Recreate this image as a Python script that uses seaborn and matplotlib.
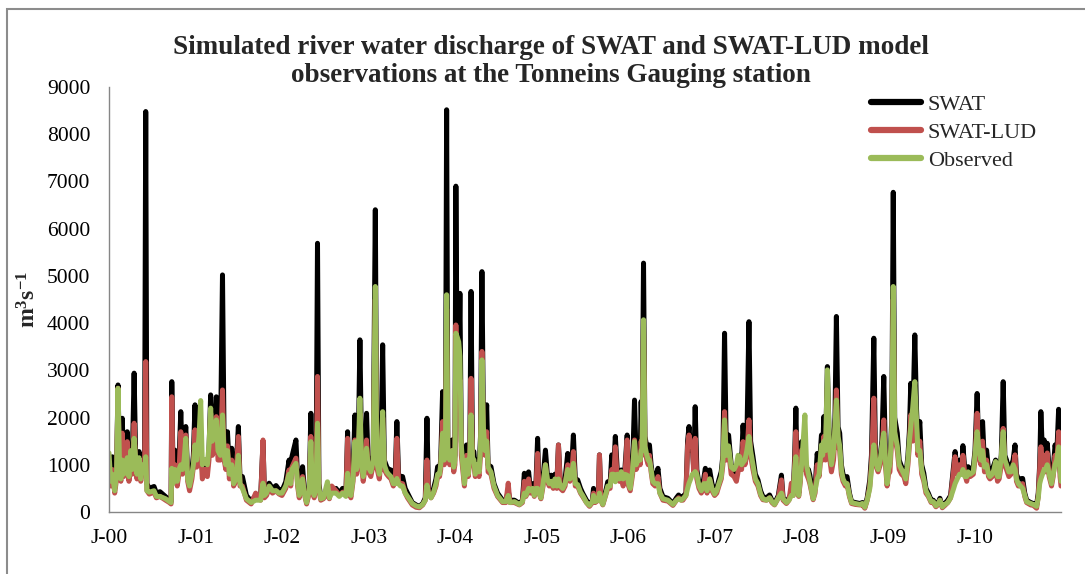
import matplotlib
matplotlib.use("Agg")
import matplotlib.pyplot as plt
import pandas as pd
import seaborn as sns
from matplotlib.lines import Line2D
from matplotlib.patches import Rectangle

# Days since 1 Jan 2000 (one row per year) and discharge in m3/s
day = [
    0, 7, 14, 24, 32, 38, 44, 50, 56, 62, 70, 77, 84, 92, 98, 106, 112, 118, 127, 134, 142, 150, 155, 160, 170, 190, 200, 215, 239, 255, 262, 265, 270, 278, 288, 295, 303, 310, 317, 324, 332, 340, 350, 356, 363,
    370, 380, 387, 394, 405, 415, 422, 429, 436, 445, 453, 460, 470, 479, 486, 493, 500, 508, 518, 526, 535, 546, 553, 563, 580, 600, 619, 640, 650, 656, 665, 676, 690, 705, 718,
    730, 746, 760, 767, 772, 789, 796, 803, 817, 824, 834, 845, 852, 858, 866, 874, 880, 886, 894, 905, 922, 930, 940, 958, 972, 986, 1000, 1007, 1014, 1021, 1030, 1038, 1045, 1052, 1059, 1066, 1073, 1080, 1087, 1094,
    1100, 1105, 1115, 1124, 1130, 1141, 1148, 1155, 1162, 1172, 1180, 1190, 1200, 1208, 1215, 1222, 1230, 1239, 1250, 1260, 1280, 1296, 1310, 1324, 1335, 1342, 1348, 1359, 1370, 1380, 1387, 1395, 1400, 1408, 1415, 1420, 1425, 1430, 1438, 1448, 1455, 1460,
    1464, 1470, 1476, 1481, 1487, 1494, 1500, 1509, 1516, 1523, 1528, 1534, 1540, 1546, 1555, 1562, 1568, 1574, 1580, 1587, 1594, 1600, 1612, 1625, 1640, 1661, 1675, 1685, 1692, 1711, 1732, 1745, 1753, 1760, 1771, 1778, 1787, 1795, 1802, 1809, 1815, 1823,
    1832, 1842, 1850, 1858, 1866, 1875, 1882, 1890, 1897, 1905, 1915, 1925, 1936, 1945, 1952, 1960, 1968, 1978, 1990, 1999, 2015, 2028, 2040, 2045, 2052, 2065, 2070, 2076, 2084, 2095, 2105, 2115, 2122, 2130, 2137, 2145, 2154, 2162, 2170, 2176, 2187,
    2193, 2200, 2210, 2218, 2225, 2232, 2236, 2242, 2246, 2250, 2256, 2262, 2270, 2276, 2281, 2288, 2295, 2305, 2317, 2325, 2338, 2359, 2380, 2395, 2404, 2415, 2422, 2435, 2442, 2448, 2455, 2462, 2468, 2474, 2481, 2490, 2500, 2510, 2517, 2524, 2535, 2545,
    2556, 2565, 2574, 2584, 2591, 2598, 2605, 2615, 2626, 2638, 2648, 2655, 2662, 2670, 2676, 2684, 2692, 2701, 2708, 2718, 2728, 2739, 2750, 2760, 2775, 2788, 2798, 2809, 2825, 2838, 2845, 2859, 2870, 2880, 2888, 2894, 2899, 2905, 2911, 2918,
    2923, 2930, 2937, 2944, 2952, 2958, 2972, 2980, 2989, 2997, 3007, 3012, 3017, 3024, 3032, 3040, 3049, 3058, 3064, 3070, 3077, 3084, 3091, 3098, 3108, 3115, 3125, 3134, 3150, 3169, 3180, 3190, 3200, 3211, 3218, 3228, 3235, 3246, 3255, 3262, 3270, 3277, 3284,
    3290, 3296, 3304, 3310, 3316, 3327, 3335, 3345, 3355, 3363, 3372, 3378, 3384, 3392, 3401, 3408, 3414, 3422, 3430, 3439, 3448, 3458, 3470, 3479, 3490, 3500, 3507, 3517, 3528, 3540, 3552, 3565, 3571, 3580, 3590, 3600, 3604, 3612, 3620, 3626, 3635, 3648,
    3655, 3664, 3670, 3680, 3687, 3695, 3704, 3712, 3718, 3728, 3735, 3742, 3750, 3757, 3766, 3774, 3781, 3788, 3798, 3807, 3816, 3824, 3830, 3838, 3856, 3865, 3873, 3890, 3901, 3915, 3922, 3928, 3933, 3940, 3947, 3953, 3960, 3968, 3978, 3985, 3993, 4000, 4008, 4014, 4018,
]

swat = [
    1100, 700, 1170, 500, 900, 2690, 1200, 800, 1985, 900, 1100, 1700, 800, 1200, 1000, 2940, 1300, 900, 1280, 800, 1100, 900, 8480, 600, 500, 540, 400, 430, 325, 250, 220, 2760, 900, 1310, 700, 1000, 2125, 1000, 1300, 1810, 800, 600, 900, 1200, 2270,
    1200, 1400, 1400, 900, 1100, 900, 1300, 2480, 1400, 1600, 2440, 1300, 1300, 5020, 1400, 1100, 1700, 900, 1350, 700, 800, 1810, 700, 750, 350, 230, 350, 300, 1480, 400, 450, 610, 500, 560, 470,
    450, 640, 1100, 700, 1170, 1525, 700, 400, 960, 500, 220, 500, 2090, 600, 400, 700, 5690, 600, 300, 350, 450, 350, 450, 500, 400, 500, 400, 1700, 500, 400, 800, 2055, 1000, 1300, 3645, 1200, 800, 1100, 2090, 1000,
    1000, 900, 1200, 6400, 1200, 850, 1300, 3540, 1100, 960, 900, 890, 700, 800, 1915, 800, 750, 750, 500, 400, 200, 150, 120, 180, 300, 1985, 500, 360, 500, 700, 960, 900, 1100, 2550, 1200, 1500, 8517, 1500, 1200, 1525, 1000, 1200,
    6900, 2500, 3000, 4630, 1500, 1000, 680, 1420, 900, 1400, 4670, 1300, 1280, 900, 1100, 900, 1600, 5090, 2000, 1500, 2270, 1000, 960, 600, 400, 250, 250, 450, 250, 250, 180, 250, 820, 400, 850, 500, 600, 400, 600, 1560, 500, 350,
    700, 1310, 800, 700, 780, 600, 800, 600, 1420, 600, 550, 700, 1240, 800, 900, 1630, 700, 680, 500, 400, 250, 150, 250, 500, 250, 300, 1210, 300, 180, 400, 640, 600, 1210, 900, 1600, 900, 800, 890, 700, 800, 1630,
    700, 600, 1000, 2370, 1100, 1200, 1490, 1200, 2340, 1500, 5270, 1600, 1380, 1200, 1420, 1000, 750, 700, 925, 500, 325, 290, 180, 300, 360, 300, 325, 400, 1500, 1810, 1300, 1400, 900, 2230, 900, 600, 500, 700, 925, 500, 890, 600,
    430, 500, 680, 855, 1200, 3785, 1400, 1630, 1000, 900, 780, 1000, 1200, 1100, 1840, 1200, 1500, 4030, 1500, 1170, 800, 680, 450, 325, 300, 360, 250, 180, 350, 780, 300, 220, 300, 400, 400, 1200, 2200, 700, 400, 800,
    1490, 1000, 1200, 900, 900, 780, 325, 500, 1240, 900, 1630, 1300, 2020, 1300, 3080, 1500, 1030, 1400, 2000, 4140, 1800, 1670, 1000, 800, 700, 750, 400, 220, 200, 180, 200, 110, 300, 680, 1200, 3680, 1200, 1000, 1200, 1500, 2870, 1200, 680,
    1000, 1030, 2000, 6770, 2000, 1670, 1100, 960, 900, 750, 1200, 1700, 2725, 1800, 3750, 2200, 1500, 1915, 1000, 820, 500, 400, 250, 250, 150, 200, 290, 120, 180, 250, 350, 1000, 1280, 900, 1100, 1000, 1405, 900, 800, 960, 900, 960,
    1300, 2510, 1500, 1200, 1915, 1000, 1310, 900, 820, 900, 1000, 1100, 800, 820, 1200, 2760, 1200, 1100, 900, 960, 1100, 1420, 800, 700, 710, 400, 250, 200, 180, 150, 400, 1000, 2125, 1200, 1525, 1000, 1455, 900, 700, 900, 1420, 1200, 2175, 900, 700,
]

swat_lud = [
    800, 550, 900, 400, 700, 2620, 1000, 650, 1670, 750, 900, 1490, 650, 1000, 800, 1880, 1000, 700, 1000, 650, 900, 800, 3185, 450, 380, 420, 300, 330, 250, 200, 170, 2440, 700, 1000, 550, 800, 1700, 800, 1100, 1630, 650, 450, 700, 950, 1740,
    950, 1100, 1300, 700, 900, 750, 1100, 2090, 1200, 1300, 2020, 1100, 1100, 2585, 1100, 900, 1400, 700, 1100, 550, 650, 1600, 550, 550, 250, 170, 400, 250, 1525, 300, 350, 500, 400, 450, 380,
    350, 500, 890, 550, 950, 1140, 550, 300, 750, 400, 170, 400, 1600, 450, 300, 550, 2870, 450, 250, 280, 400, 280, 550, 450, 350, 420, 350, 1560, 400, 300, 650, 1525, 800, 1100, 2090, 950, 650, 900, 1525, 850,
    800, 750, 1000, 4500, 950, 700, 1100, 2000, 900, 800, 750, 700, 550, 650, 1560, 650, 600, 600, 400, 300, 150, 100, 90, 150, 250, 1100, 400, 300, 400, 550, 750, 750, 900, 1915, 1000, 1200, 4300, 1200, 1000, 1300, 850, 1000,
    3960, 2200, 2500, 2800, 1200, 850, 550, 1200, 750, 1100, 2830, 1050, 1000, 750, 900, 750, 1200, 3400, 1600, 1200, 1700, 850, 800, 500, 330, 200, 200, 610, 200, 200, 150, 200, 650, 330, 700, 400, 500, 330, 500, 1240, 400, 280,
    550, 1000, 650, 550, 600, 500, 650, 500, 1420, 500, 450, 550, 1000, 650, 750, 1280, 550, 550, 400, 330, 200, 120, 200, 400, 200, 250, 1210, 250, 150, 330, 500, 500, 900, 700, 1380, 700, 650, 700, 550, 650, 1525,
    550, 450, 800, 1525, 900, 1000, 1200, 1000, 1500, 1200, 3900, 1300, 1100, 1000, 1200, 850, 600, 550, 750, 400, 250, 230, 140, 250, 300, 250, 250, 350, 1400, 1630, 1400, 1450, 800, 1560, 700, 500, 400, 550, 800, 400, 700, 450,
    350, 400, 550, 700, 1000, 2125, 1100, 1300, 800, 750, 650, 850, 1000, 900, 1490, 1000, 1200, 1950, 1200, 900, 650, 550, 350, 260, 250, 300, 200, 150, 300, 680, 250, 180, 250, 610, 350, 1000, 1700, 550, 330, 650,
    1310, 900, 1100, 800, 700, 600, 260, 400, 1000, 750, 1300, 1100, 1600, 1100, 2600, 1200, 850, 1100, 1600, 2585, 1400, 1300, 800, 650, 550, 600, 330, 180, 160, 150, 150, 80, 250, 550, 1000, 2410, 1000, 850, 1000, 1200, 1950, 1000, 550,
    800, 850, 1600, 4500, 1600, 1300, 900, 800, 750, 600, 1000, 1400, 2055, 1500, 2300, 1800, 1200, 1500, 800, 650, 400, 330, 200, 200, 110, 160, 250, 90, 140, 200, 300, 900, 1170, 800, 1000, 900, 1200, 800, 650, 800, 750, 800,
    1100, 2090, 1200, 1000, 1500, 850, 1100, 750, 700, 750, 850, 950, 650, 700, 1000, 1770, 1000, 900, 750, 800, 900, 1210, 650, 550, 600, 330, 200, 150, 140, 80, 330, 900, 1380, 1000, 1200, 850, 1250, 750, 550, 750, 1200, 1000, 1700, 750, 550,
]

observed = [
    1250, 650, 800, 450, 800, 2620, 1100, 700, 1100, 800, 950, 1150, 750, 1300, 900, 1560, 1150, 800, 1150, 700, 1000, 850, 1170, 450, 420, 450, 330, 330, 280, 220, 200, 925, 600, 900, 650, 900, 1000, 900, 1100, 1560, 700, 550, 800, 1000, 1420,
    1100, 1600, 2360, 1000, 1100, 1000, 1400, 2200, 1500, 1600, 1950, 1300, 1200, 2055, 1200, 1000, 1300, 800, 1000, 600, 700, 1200, 600, 500, 280, 200, 250, 250, 610, 350, 400, 550, 450, 450, 400,
    400, 550, 800, 600, 900, 1030, 600, 350, 700, 400, 200, 450, 1490, 500, 350, 600, 1880, 500, 280, 300, 640, 300, 400, 400, 330, 400, 330, 820, 450, 350, 700, 1490, 900, 1200, 2410, 1000, 750, 1000, 1350, 950,
    900, 850, 1100, 4775, 1050, 800, 1200, 2125, 1000, 850, 800, 750, 600, 600, 710, 600, 550, 550, 400, 330, 180, 130, 110, 160, 250, 570, 400, 300, 420, 600, 800, 800, 1000, 1670, 1100, 1300, 4600, 1300, 1100, 1300, 950, 1100,
    3785, 3700, 3600, 3300, 1400, 950, 600, 1100, 800, 1200, 2055, 1150, 1100, 800, 1000, 850, 1400, 3220, 1800, 1300, 1500, 950, 850, 550, 350, 220, 220, 350, 200, 220, 160, 220, 400, 350, 500, 450, 500, 350, 500, 500, 400, 300,
    600, 1000, 700, 600, 650, 550, 700, 550, 700, 550, 500, 600, 900, 700, 800, 1030, 600, 580, 420, 350, 200, 140, 220, 350, 220, 250, 400, 250, 160, 350, 550, 550, 800, 800, 640, 800, 700, 855, 700, 800, 780,
    600, 500, 900, 1490, 1000, 1100, 1100, 1100, 1300, 1300, 4070, 1400, 1200, 1100, 1100, 900, 650, 600, 600, 400, 280, 250, 160, 250, 280, 250, 280, 350, 500, 610, 700, 800, 800, 855, 800, 550, 450, 600, 600, 450, 700, 500,
    380, 450, 600, 750, 1100, 1950, 1200, 1400, 950, 900, 1000, 1200, 1170, 1000, 1050, 1100, 1300, 1600, 1300, 1000, 700, 600, 380, 280, 250, 300, 220, 160, 300, 400, 280, 200, 250, 350, 350, 900, 1170, 600, 350, 700,
    1000, 1500, 2055, 1000, 800, 650, 280, 450, 700, 800, 1420, 1200, 1500, 1300, 3010, 1400, 1000, 1300, 1800, 2370, 1600, 1400, 900, 700, 600, 600, 350, 200, 180, 160, 180, 100, 250, 500, 900, 1420, 1100, 900, 1100, 1400, 1670, 1100, 600,
    900, 1000, 1800, 4775, 1700, 1400, 1000, 900, 800, 700, 1100, 1500, 1810, 2200, 2760, 2000, 1300, 1300, 900, 700, 450, 350, 220, 220, 130, 180, 250, 110, 160, 200, 300, 500, 600, 700, 800, 800, 900, 750, 750, 850, 800, 850,
    1200, 1700, 1400, 1100, 1300, 950, 1000, 800, 750, 800, 900, 1070, 750, 750, 1200, 1700, 1100, 1000, 850, 850, 1000, 900, 700, 600, 500, 350, 220, 180, 160, 120, 300, 600, 700, 800, 900, 900, 1000, 800, 600, 800, 1000, 1100, 1380, 900, 650,
]

series_names = ["SWAT", "SWAT-LUD", "Observed"]
series_colors = ["#000000", "#C0504D", "#9BBB59"]
year_labels = ["J-00", "J-01", "J-02", "J-03", "J-04", "J-05", "J-06",
               "J-07", "J-08", "J-09", "J-10", ""]
y_ticks = [0, 1000, 2000, 3000, 4000, 5000, 6000, 7000, 8000, 9000]
title_lines = ["Simulated river water discharge of SWAT and SWAT-LUD model",
               "observations at the Tonneins Gauging station"]

start = pd.Timestamp("2000-01-01")
dates = start + pd.to_timedelta(day, unit="D")
df = pd.concat(
    [pd.DataFrame({"date": dates, "flow": vals, "series": name})
     for name, vals in zip(series_names, [swat, swat_lud, observed])],
    ignore_index=True,
)

sns.set_theme(style="white")
plt.rcParams["font.family"] = ["Liberation Serif", "DejaVu Serif"]
plt.rcParams["mathtext.fontset"] = "custom"
plt.rcParams["mathtext.rm"] = "Liberation Serif:bold"
plt.rcParams["mathtext.it"] = "Liberation Serif:bold"
plt.rcParams["mathtext.bf"] = "Liberation Serif:bold"

W, H = 1085, 574
fig = plt.figure(figsize=(W / 100, H / 100), dpi=100)
ax = fig.add_axes([109 / W, 1 - 512 / H, (1061 - 109) / W, (512 - 87) / H])

palette = dict(zip(series_names, series_colors))
sns.lineplot(data=df, x="date", y="flow", hue="series", hue_order=series_names,
             palette=palette, linewidth=3.6, estimator=None, legend=False, ax=ax)
for ln in ax.lines:
    ln.set_solid_capstyle("round")
    ln.set_solid_joinstyle("round")

ax.set_xlim(start, pd.Timestamp("2011-01-01"))
ax.set_ylim(0, 9000)
ax.set_xlabel("")
ax.set_ylabel("")
ax.set_yticks(y_ticks)
ax.set_yticklabels([str(v) for v in y_ticks])
ax.set_xticks(pd.date_range("2000-01-01", "2011-01-01", freq="YS"))
ax.set_xticklabels(year_labels)

for side in ("top", "right"):
    ax.spines[side].set_visible(False)
for side in ("left", "bottom"):
    ax.spines[side].set_color("#868686")
    ax.spines[side].set_linewidth(1.0)
ax.tick_params(axis="both", direction="out", length=4.5, width=1.0,
               color="#868686", labelsize=15.5, labelcolor="black")
ax.tick_params(axis="y", pad=9)
ax.tick_params(axis="x", pad=8)

fig.text(551 / W, 1 - 48 / H, title_lines[0], ha="center", va="center",
         fontsize=19.5, fontweight="bold")
fig.text(551 / W, 1 - 76 / H, title_lines[1], ha="center", va="center",
         fontsize=19.5, fontweight="bold")
fig.text(29 / W, 1 - 300 / H, "m$^{3}$s$^{-1}$", rotation=90, ha="center",
         va="center", fontsize=17, fontweight="bold")

handles = [Line2D([0], [0], color=c, lw=4.5, solid_capstyle="round")
           for c in series_colors]
ax.legend(handles, series_names, loc="upper left",
          bbox_to_anchor=(851 / W, 1 - 74 / H), bbox_transform=fig.transFigure,
          frameon=False, fontsize=16, handlelength=2.25, handletextpad=0.3,
          labelspacing=0.35, borderpad=0.4)

fig.add_artist(Rectangle((7 / W, -0.05), 1.1, 1.05 - 9 / H,
                         transform=fig.transFigure, fill=False,
                         edgecolor="#8c8c8c", linewidth=1.5))

fig.savefig("out.png", dpi=100)
